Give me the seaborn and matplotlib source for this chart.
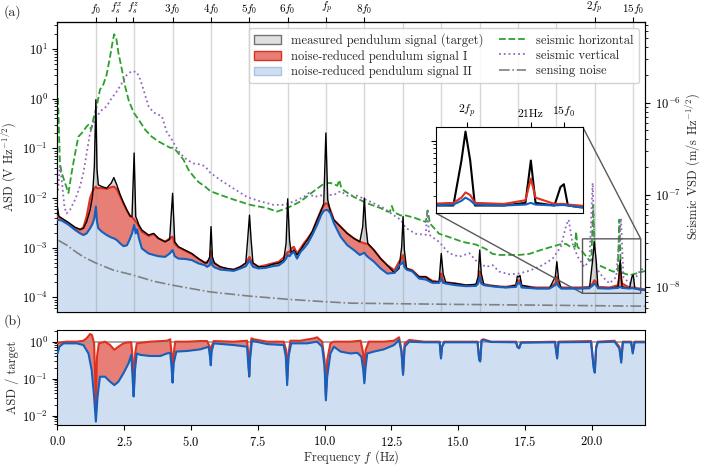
import numpy as np
import seaborn as sns
import matplotlib.pyplot as plt
from matplotlib.patches import Patch
from matplotlib.lines import Line2D
from matplotlib.ticker import NullFormatter

# pendulum fundamental, seismic resonances, pitch mode (Hz)
f0 = 1.437
fs_x = 2.19
fs_z = 2.84
fp = 10.06

# ---- panel (a): pendulum ASD, common frequency grid ----
freq = [0.0, 0.05, 0.16, 0.41, 0.66, 0.85, 0.97, 1.09, 1.22, 1.31, 1.38, 1.437, 1.48, 1.53, 1.66, 1.84,
        2.01, 2.11, 2.22, 2.35, 2.47, 2.60, 2.72, 2.79, 2.87, 2.93, 2.98, 3.05, 3.16, 3.41, 3.60, 3.78,
        4.03, 4.20, 4.31, 4.39, 4.53, 4.78, 5.03, 5.28, 5.53,
        5.60, 5.70, 5.75, 5.80, 5.88, 6.10, 6.35, 6.60, 6.85, 7.05, 7.12, 7.19, 7.25, 7.32, 7.53, 7.78,
        8.04, 8.29, 8.47, 8.56, 8.62, 8.69, 8.75, 8.85, 8.97, 9.10, 9.22, 9.37, 9.54, 9.72, 9.87, 9.97,
        10.05, 10.12, 10.22, 10.35, 10.60, 10.85, 11.10, 11.32, 11.43, 11.49, 11.55, 11.62, 11.85, 12.10, 12.35,
        12.62, 12.79, 12.89, 12.94, 12.99, 13.07, 13.29, 13.54, 13.79, 14.04, 14.29, 14.37, 14.44, 14.54,
        14.91, 15.29, 15.67, 15.75, 15.81, 15.87, 15.97, 16.42, 16.79, 17.17, 17.22, 17.27, 17.32, 17.38,
        17.92, 18.42, 18.64, 18.70, 18.76, 18.86, 19.54, 19.92, 20.04, 20.10, 20.17, 20.24, 20.67, 20.99,
        21.07, 21.14, 21.42, 21.51, 21.56, 21.62, 21.79, 22.04]

target = [6.5e-3, 4.3e-3, 3.9e-3, 3.2e-3, 2.56e-3, 2.33e-3, 2.44e-3, 3.3e-3, 5.7e-3, 1.06e-2, 4.3e-2, 0.95,
          3.7e-2, 1.83e-2, 1.69e-2, 1.57e-2, 1.98e-2, 2.57e-2, 1.83e-2, 1.15e-2, 8.0e-3, 5.7e-3, 4.3e-3,
          4.2e-3, 8.0e-2, 4.2e-3, 3.6e-3, 2.85e-3, 2.26e-3, 1.79e-3, 1.93e-3, 1.53e-3, 1.31e-3, 1.46e-3,
          1.24e-2, 1.31e-3, 1.04e-3, 8.9e-4, 7.6e-4, 6.0e-4, 4.9e-4,
          4.9e-4, 6.5e-4, 2.64e-3, 6.5e-4, 4.8e-4, 4.1e-4, 3.8e-4, 3.6e-4, 4.1e-4, 4.9e-4, 1.42e-3, 4.5e-3,
          1.42e-3, 4.9e-4, 4.1e-4, 4.1e-4, 4.6e-4, 4.9e-4, 5.6e-4, 1.21e-3, 9.6e-3, 1.42e-3, 7.6e-4, 8.9e-4,
          7.1e-4, 8.9e-4, 1.12e-3, 1.46e-3, 2.09e-3, 3.6e-3, 5.5e-3, 7.8e-3, 0.203, 9.1e-3, 5.3e-3, 3.6e-3,
          2.64e-3, 1.93e-3, 1.53e-3, 1.31e-3, 2.64e-3, 9.9e-3, 2.64e-3, 1.21e-3, 8.9e-4, 6.0e-4, 4.4e-4,
          3.1e-4, 3.8e-4, 1.04e-3, 4.2e-3, 8.9e-4, 3.8e-4, 3.4e-4, 2.58e-4, 2.58e-4, 2.04e-4, 2.04e-4, 7.6e-4,
          3.0e-4, 1.98e-4, 1.89e-4, 1.75e-4, 1.83e-4, 2.58e-4, 8.9e-4, 3.0e-4, 1.75e-4, 1.67e-4, 1.57e-4,
          1.75e-4, 2.66e-4, 2.58e-4, 2.74e-4, 1.75e-4, 1.5e-4, 1.5e-4, 2.58e-4, 5.2e-4, 2.38e-4, 1.5e-4,
          1.5e-4, 1.5e-4, 5.6e-4, 1.31e-3, 5.6e-4, 1.5e-4, 1.5e-4, 1.62e-4, 5.6e-4, 1.62e-4, 1.5e-4, 2.58e-4,
          2.8e-4, 1.5e-4, 1.43e-4, 1.38e-4]

signal_1 = [4.3e-3, 4.1e-3, 3.8e-3, 3.1e-3, 2.48e-3, 2.26e-3, 2.56e-3, 4.2e-3, 9.8e-3, 1.34e-2, 1.57e-2, 1.69e-2,
            1.57e-2, 1.57e-2, 1.57e-2, 1.52e-2, 1.64e-2, 1.69e-2, 1.50e-2, 1.06e-2, 7.6e-3, 5.5e-3, 4.3e-3,
            4.1e-3, 3.7e-3, 3.3e-3, 3.1e-3, 2.64e-3, 2.09e-3, 1.71e-3, 1.87e-3, 1.53e-3, 1.31e-3, 1.53e-3,
            1.66e-3, 1.18e-3, 1.01e-3, 8.6e-4, 7.4e-4, 5.9e-4, 4.9e-4,
            5.2e-4, 5.6e-4, 8.6e-4, 5.6e-4, 4.9e-4, 4.0e-4, 3.7e-4, 3.6e-4, 4.1e-4, 4.8e-4, 5.6e-4, 6.5e-4,
            5.6e-4, 4.8e-4, 4.1e-4, 4.4e-4, 4.8e-4, 5.2e-4, 6.3e-4, 7.4e-4, 8.2e-4, 8.2e-4, 9.6e-4, 1.04e-3,
            7.6e-4, 9.6e-4, 1.21e-3, 1.53e-3, 2.09e-3, 3.6e-3, 5.7e-3, 6.9e-3, 7.8e-3, 7.6e-3, 5.7e-3, 3.6e-3,
            2.64e-3, 1.93e-3, 1.53e-3, 1.31e-3, 1.25e-3, 1.21e-3, 1.21e-3, 1.18e-3, 8.9e-4, 6.0e-4, 4.4e-4,
            3.5e-4, 5.2e-4, 6.0e-4, 7.1e-4, 4.8e-4, 3.8e-4, 3.5e-4, 2.58e-4, 2.58e-4, 2.14e-4, 2.04e-4, 3.0e-4,
            2.1e-4, 2.01e-4, 1.89e-4, 1.75e-4, 1.77e-4, 2.04e-4, 3.3e-4, 2.04e-4, 1.83e-4, 1.67e-4, 1.62e-4,
            1.75e-4, 2.2e-4, 2.14e-4, 2.2e-4, 1.69e-4, 1.57e-4, 1.57e-4, 1.89e-4, 2.58e-4, 1.83e-4, 1.57e-4,
            1.57e-4, 1.62e-4, 1.89e-4, 2.2e-4, 2.04e-4, 1.62e-4, 1.57e-4, 1.75e-4, 3.3e-4, 1.89e-4, 1.57e-4,
            1.57e-4, 1.57e-4, 1.54e-4, 1.5e-4, 1.43e-4]

signal_2 = [3.6e-3, 3.6e-3, 3.5e-3, 2.9e-3, 2.26e-3, 1.93e-3, 1.79e-3, 1.93e-3, 2.44e-3, 3.0e-3, 3.9e-3, 6.7e-3,
            3.3e-3, 2.44e-3, 2.09e-3, 1.79e-3, 1.60e-3, 1.53e-3, 1.42e-3, 1.21e-3, 1.07e-3, 1.11e-3, 1.53e-3,
            1.93e-3, 2.85e-3, 1.93e-3, 2.33e-3, 1.53e-3, 9.6e-4, 7.6e-4, 7.1e-4, 6.7e-4, 6.5e-4, 7.6e-4,
            8.9e-4, 6.7e-4, 6.0e-4, 5.9e-4, 5.6e-4, 4.8e-4, 4.4e-4,
            4.1e-4, 4.4e-4, 6.0e-4, 4.4e-4, 4.0e-4, 3.6e-4, 3.5e-4, 3.4e-4, 3.8e-4, 4.2e-4, 4.8e-4, 5.6e-4,
            4.8e-4, 4.1e-4, 3.8e-4, 3.9e-4, 4.2e-4, 4.4e-4, 5.2e-4, 6.0e-4, 7.1e-4, 6.7e-4, 7.4e-4, 8.2e-4,
            6.0e-4, 8.2e-4, 9.6e-4, 1.21e-3, 1.79e-3, 2.85e-3, 4.5e-3, 5.5e-3, 5.7e-3, 5.7e-3, 4.9e-3, 3.1e-3,
            1.66e-3, 1.12e-3, 8.9e-4, 7.1e-4, 7.6e-4, 7.9e-4, 7.1e-4, 6.5e-4, 5.2e-4, 3.8e-4, 3.0e-4,
            3.1e-4, 4.4e-4, 4.8e-4, 5.2e-4, 4.1e-4, 3.6e-4, 3.3e-4, 2.38e-4, 2.27e-4, 1.95e-4, 1.95e-4, 2.38e-4,
            1.95e-4, 1.89e-4, 1.75e-4, 1.67e-4, 1.69e-4, 1.89e-4, 2.5e-4, 1.89e-4, 1.75e-4, 1.62e-4, 1.57e-4,
            1.62e-4, 1.95e-4, 1.89e-4, 1.95e-4, 1.57e-4, 1.5e-4, 1.5e-4, 1.75e-4, 1.95e-4, 1.67e-4, 1.5e-4,
            1.5e-4, 1.54e-4, 1.72e-4, 1.89e-4, 1.75e-4, 1.54e-4, 1.5e-4, 1.54e-4, 1.62e-4, 1.54e-4, 1.5e-4,
            1.52e-4, 1.52e-4, 1.5e-4, 1.43e-4, 1.38e-4]

noise_freq = [0.03, 0.35, 0.59, 0.97, 1.43, 2.10, 2.83, 3.60, 4.30, 5.72, 7.15, 8.61, 10.07, 11.0, 14.73, 18.48, 22.0]
sensing_noise = [1.4e-3, 1.12e-3, 8.9e-4, 6.5e-4, 4.9e-4, 3.5e-4, 2.8e-4, 2.1e-4, 1.75e-4, 1.28e-4, 1.06e-4,
                 9.1e-5, 8.1e-5, 7.6e-5, 7.2e-5, 6.9e-5, 6.6e-5]

# ---- seismic VSD (right axis) ----
seis_h_freq = [0.02, 0.09, 0.16, 0.28, 0.41, 0.53, 0.66, 0.78, 0.91, 1.09, 1.16, 1.26, 1.34, 1.47, 1.59, 1.72,
               1.84, 1.97, 2.06, 2.12, 2.20, 2.28, 2.41, 2.53, 2.66, 2.85, 3.03, 3.28, 3.53, 3.78, 4.03, 4.22,
               4.35, 4.53, 4.72, 4.91, 5.10, 5.28, 5.53, 5.72, 6.10, 6.60, 7.22, 7.85, 8.22, 8.60, 9.10, 9.60,
               9.97, 10.22, 10.48, 10.55, 10.62, 10.72, 11.10, 11.60, 12.10, 12.35, 12.45, 12.52, 12.60, 12.85,
               13.04, 13.41, 13.79, 13.86, 13.95, 14.29, 14.66, 15.17, 15.67, 16.04, 16.29, 16.54, 16.92, 17.29,
               17.67, 18.04, 18.42, 18.79, 19.04, 19.20, 19.38, 19.42, 19.47, 19.67, 19.92, 19.99, 20.06, 20.13,
               20.42, 20.80, 20.98, 21.04, 21.10, 21.42, 21.67, 22.04]
seis_h = [1.12e-6, 2.19e-7, 1.74e-7, 1.35e-7, 1.05e-7, 1.74e-7, 2.82e-7, 4.27e-7, 4.68e-7, 5.5e-7, 5.75e-7,
          5.13e-7, 6.6e-7, 9.1e-7, 1.38e-6, 1.58e-6, 2.0e-6, 3.16e-6, 4.47e-6, 5.5e-6, 5.0e-6, 3.47e-6, 2.29e-6,
          1.51e-6, 1.07e-6, 7.8e-7, 6.6e-7, 5.1e-7, 4.27e-7, 3.8e-7, 3.47e-7, 3.24e-7, 3.24e-7, 2.82e-7, 2.4e-7,
          1.86e-7, 1.58e-7, 1.38e-7, 1.23e-7, 1.10e-7, 1.0e-7, 8.9e-8, 7.8e-8, 7.2e-8, 6.6e-8, 7.2e-8, 8.5e-8,
          1.10e-7, 1.32e-7, 1.35e-7, 1.26e-7, 1.45e-7, 1.22e-7, 1.12e-7, 9.5e-8, 8.1e-8, 7.2e-8, 6.6e-8, 6.6e-8,
          7.6e-8, 6.5e-8, 6.0e-8, 6.0e-8, 5.6e-8, 5.1e-8, 6.8e-8, 4.9e-8, 3.8e-8, 3.5e-8, 3.1e-8, 2.9e-8,
          2.6e-8, 2.3e-8, 2.24e-8, 2.24e-8, 2.24e-8, 2.3e-8, 2.5e-8, 2.7e-8, 2.9e-8, 2.95e-8, 2.75e-8, 2.75e-8,
          4.0e-8, 2.75e-8, 2.4e-8, 1.95e-8, 1.95e-8, 7.8e-8, 1.8e-8, 1.66e-8, 1.48e-8, 1.48e-8, 5.4e-8, 1.45e-8,
          1.35e-8, 1.41e-8, 1.51e-8]

seis_v_freq = [0.02, 0.09, 0.16, 0.26, 0.34, 0.47, 0.66, 0.84, 0.97, 1.09, 1.22, 1.34, 1.47, 1.66, 1.84, 2.03,
               2.22, 2.41, 2.60, 2.78, 2.97, 3.10, 3.22, 3.41, 3.60, 3.78, 3.91, 4.10, 4.22, 4.41, 4.60, 4.85,
               5.10, 5.35, 5.53, 5.72, 6.10, 6.60, 7.10, 7.60, 8.10, 8.47, 8.85, 9.22, 9.41, 9.60, 9.97, 10.35,
               10.60, 10.85, 11.22, 11.47, 11.85, 12.22, 12.60, 12.85, 13.04, 13.41, 13.79, 13.85, 13.92, 14.29,
               14.66, 15.04, 15.42, 15.67, 16.04, 16.29, 16.54, 16.92, 17.29, 17.67, 18.17, 18.54, 18.85, 19.04,
               19.14, 19.29, 19.48, 19.73, 19.92, 20.04, 20.14, 20.42, 20.67, 20.92, 21.10, 21.19, 21.42, 21.67,
               21.85, 22.04]
seis_v = [1.12e-7, 2.04e-7, 1.45e-7, 7.4e-8, 6.3e-8, 6.9e-8, 8.9e-8, 1.23e-7, 1.74e-7, 2.8e-7, 4.7e-7, 6.0e-7,
          7.1e-7, 8.3e-7, 9.1e-7, 1.12e-6, 1.32e-6, 1.62e-6, 2.0e-6, 2.19e-6, 2.14e-6, 1.78e-6, 1.38e-6, 9.1e-7,
          7.8e-7, 7.4e-7, 7.1e-7, 4.7e-7, 4.27e-7, 3.4e-7, 2.8e-7, 2.4e-7, 2.19e-7, 2.14e-7, 2.04e-7, 1.74e-7,
          1.45e-7, 1.17e-7, 9.5e-8, 8.5e-8, 7.8e-8, 7.8e-8, 8.5e-8, 9.5e-8, 1.05e-7, 9.5e-8, 1.0e-7, 1.0e-7,
          1.10e-7, 9.8e-8, 9.8e-8, 9.1e-8, 8.1e-8, 7.2e-8, 6.0e-8, 5.4e-8, 4.4e-8, 3.8e-8, 3.7e-8, 6.6e-8,
          3.7e-8, 3.1e-8, 2.34e-8, 2.14e-8, 2.34e-8, 1.95e-8, 1.66e-8, 1.74e-8, 1.48e-8, 1.38e-8, 1.41e-8,
          1.51e-8, 1.74e-8, 2.04e-8, 2.75e-8, 4.6e-8, 5.4e-8, 2.95e-8, 2.14e-8, 1.66e-8, 1.95e-8, 1.35e-7,
          1.66e-8, 1.29e-8, 1.10e-8, 1.29e-8, 5.6e-8, 1.29e-8, 1.10e-8, 1.29e-8, 1.58e-8, 1.51e-8]

# ---- panel (b): ASD ratio to target ----
ratio_1_freq = [0.00, 0.09, 0.34, 0.72, 0.97, 1.09, 1.22, 1.29, 1.37, 1.41, 1.437, 1.48, 1.55, 1.66, 1.78, 1.97,
                2.13, 2.28, 2.47, 2.66, 2.76, 2.82, 2.86, 2.91, 2.97, 3.47, 4.10, 4.22, 4.28, 4.31, 4.35, 4.41,
                4.85, 5.35, 5.60, 5.70, 5.74, 5.77, 5.85, 6.60, 7.10, 7.15, 7.18, 7.21, 7.26, 7.35, 7.85, 8.47,
                8.56, 8.60, 8.65, 8.72, 9.10, 9.60, 9.72, 9.91, 10.00, 10.05, 10.10, 10.22, 10.35, 10.97, 11.35,
                11.45, 11.49, 11.54, 11.66, 12.22, 12.60, 12.79, 12.88, 12.94, 13.00, 13.17, 13.73, 14.31, 14.36,
                14.40, 14.48, 15.73, 15.79, 15.83, 15.88, 15.95, 16.23, 17.17, 17.23, 17.29, 17.36, 18.63, 18.71,
                18.76, 19.98, 20.08, 20.12, 20.17, 20.23, 20.86, 21.04, 21.11, 21.17, 21.48, 21.54, 21.61, 22.04]
ratio_1 = [0.90, 0.94, 1.00, 1.00, 1.06, 1.23, 1.61, 1.51, 0.90, 0.113, 0.0175, 0.39, 0.90, 0.94, 1.00, 0.81,
           0.60, 0.73, 0.90, 0.96, 0.96, 0.32, 0.04, 0.48, 0.90, 1.00, 1.06, 1.16, 0.39, 0.083, 0.48, 1.00,
           1.00, 1.04, 1.04, 0.73, 0.32, 0.73, 1.04, 1.00, 1.06, 0.39, 0.126, 0.48, 1.23, 1.16, 1.00, 1.00,
           0.60, 0.092, 0.48, 1.06, 1.06, 1.23, 1.31, 1.00, 0.32, 0.033, 0.32, 0.90, 1.00, 1.00, 1.06,
           0.48, 0.092, 0.60, 1.00, 1.00, 1.06, 1.31, 0.60, 0.14, 0.90, 1.11, 1.00, 1.00, 0.39,
           0.73, 1.00, 1.00, 0.35, 0.32, 1.11, 1.16, 1.00, 1.00, 0.73, 0.70, 0.96, 1.00, 0.39,
           1.00, 1.04, 0.21, 0.155, 0.73, 1.00, 1.06, 0.73, 0.32, 1.00, 1.00, 0.54, 1.00, 1.00]

ratio_2_freq = [0.00, 0.07, 0.22, 0.72, 0.97, 1.16, 1.28, 1.37, 1.437, 1.50, 1.59, 1.78, 1.97, 2.13, 2.28, 2.47,
                2.66, 2.76, 2.81, 2.85, 2.90, 2.97, 3.10, 3.47, 3.85, 4.10, 4.22, 4.27, 4.31, 4.35, 4.45, 4.85,
                5.35, 5.66, 5.71, 5.74, 5.77, 5.85, 6.60, 7.10, 7.14, 7.18, 7.21, 7.28, 7.85, 8.47, 8.55, 8.60,
                8.65, 8.75, 9.35, 9.72, 9.91, 10.00, 10.05, 10.10, 10.22, 10.35, 10.60, 10.97, 11.23, 11.38,
                11.45, 11.49, 11.54, 11.60, 11.85, 12.22, 12.60, 12.79, 12.88, 12.94, 13.00, 13.17, 13.73, 14.31,
                14.36, 14.40, 14.48, 15.73, 15.79, 15.83, 15.88, 15.95, 16.23, 17.17, 17.23, 17.29, 17.36, 18.63,
                18.71, 18.76, 19.98, 20.08, 20.12, 20.17, 20.23, 20.86, 21.04, 21.11, 21.17, 21.48, 21.54, 21.61,
                22.04]
ratio_2 = [0.48, 0.73, 0.90, 0.90, 0.81, 0.48, 0.17, 0.033, 0.0069, 0.033, 0.113, 0.113, 0.083, 0.067, 0.083,
           0.14, 0.26, 0.44, 0.113, 0.033, 0.17, 0.48, 0.44, 0.41, 0.41, 0.48, 0.50, 0.21, 0.078, 0.26, 0.54,
           0.56, 0.62, 0.73, 0.39, 0.23, 0.54, 0.90, 0.81, 0.73, 0.26, 0.113, 0.32, 1.06, 0.86, 0.81, 0.39,
           0.067, 0.39, 0.90, 0.90, 1.00, 0.73, 0.21, 0.026, 0.113, 0.48, 0.73, 0.54, 0.48, 0.50, 0.39, 0.17,
           0.075, 0.21, 0.48, 0.54, 0.62, 0.81, 1.11, 0.54, 0.126, 0.73, 1.00, 0.96, 0.96, 0.35, 0.73, 0.96,
           0.96, 0.32, 0.29, 1.06, 1.11, 0.98, 0.96, 0.70, 0.66, 0.94, 0.96, 0.35, 0.96, 0.98, 0.19, 0.145,
           0.66, 0.96, 1.00, 0.66, 0.27, 0.96, 0.96, 0.48, 0.96, 0.96]

top_ticks = [f0, fs_x, fs_z, 3 * f0, 4 * f0, 5 * f0, 6 * f0, fp, 8 * f0, 2 * fp, 15 * f0]
top_labels = ['$f_0$', '$f_s^x$', '$f_s^z$', '$3f_0$', '$4f_0$', '$5f_0$', '$6f_0$', '$f_p$', '$8f_0$',
              '$2f_p$', '$15f_0$']
inset_ticks = [2 * fp, 21.07, 15 * f0]
inset_labels = ['$2f_p$', '21Hz', '$15f_0$']

sns.set_style('ticks')
plt.rcParams['font.family'] = 'serif'
plt.rcParams['font.serif'] = ['cmr10']
plt.rcParams['mathtext.fontset'] = 'cm'
plt.rcParams['axes.formatter.use_mathtext'] = True
plt.rcParams['axes.unicode_minus'] = False
plt.rcParams['font.size'] = 9
plt.rcParams['axes.edgecolor'] = 'black'
plt.rcParams['xtick.color'] = 'black'
plt.rcParams['ytick.color'] = 'black'

c_black = 'black'
c_red = '#e0301e'
c_blue = '#1560bd'
fill_gray = '#d6d6d6'
fill_red = '#e87f76'
fill_blue = '#cfdff1'


def line(axis, x, y, **kw):
    sns.lineplot(x=x, y=y, ax=axis, estimator=None, sort=False, **kw)


fig = plt.figure(figsize=(7.02, 4.66), dpi=100)
ax = fig.add_axes([0.0819, 0.3305, 0.8369, 0.6223])
bx = fig.add_axes([0.0819, 0.088, 0.8369, 0.2039])
ax2 = ax.twinx()
ax.set_zorder(ax2.get_zorder() + 1)
ax.patch.set_visible(False)

# ---- panel (a) ----
ax.set_yscale('log')
ax.set_xlim(0, 22)
ax.set_ylim(5.05e-5, 34.8)
floor = 1e-6
ax.fill_between(freq, floor, target, color=fill_gray, lw=0, zorder=1)
ax.fill_between(freq, floor, signal_1, color=fill_red, lw=0, zorder=1.1)
ax.fill_between(freq, floor, signal_2, color=fill_blue, lw=0, zorder=1.2)
for n in range(1, 16):
    ax.axvline(n * f0, color='0.55', alpha=0.35, lw=1, zorder=1.5)
line(ax, freq, signal_1, color=c_red, lw=1.5, zorder=3)
line(ax, freq, target, color=c_black, lw=1.0, zorder=4)
line(ax, freq, signal_2, color=c_blue, lw=1.5, zorder=5)
line(ax, noise_freq, sensing_noise, color='0.5', lw=1.2, linestyle='-.', zorder=6)
ax.set_ylabel('ASD (V Hz$^{-1/2}$)', labelpad=2)
ax.tick_params(axis='x', which='both', bottom=False, labelbottom=False)

ax2.set_yscale('log')
ax2.set_ylim(5.4e-9, 7.46e-6)
line(ax2, seis_h_freq, seis_h, color='#2ca02c', lw=1.3, linestyle='--')
line(ax2, seis_v_freq, seis_v, color='#9467bd', lw=1.3, linestyle=':')
ax2.set_ylabel('Seismic VSD (m/s Hz$^{-1/2}$)', labelpad=2)
ax2.set_xlim(0, 22)

sec = ax.secondary_xaxis('top')
sec.set_xticks(top_ticks, top_labels)
sec.tick_params(axis='x', length=3.5, pad=1, labelsize=8)

# inset zoom on the high-frequency peaks
axins = ax.inset_axes([0.644, 0.341, 0.250, 0.297])
line(axins, freq, target, color=c_black, lw=1.5)
line(axins, freq, signal_1, color=c_red, lw=1.5)
line(axins, freq, signal_2, color=c_blue, lw=1.5)
axins.set_yscale('log')
axins.set_xlim(19.66, 21.84)
axins.set_ylim(1.2e-4, 1.5e-3)
axins.set_facecolor('white')
axins.xaxis.tick_top()
axins.set_xticks(inset_ticks, inset_labels)
axins.tick_params(axis='x', pad=2, labelsize=8.5)
axins.yaxis.set_major_formatter(NullFormatter())
axins.yaxis.set_minor_formatter(NullFormatter())
axins.set_xlabel('')
axins.set_ylabel('')
ax.indicate_inset_zoom(axins, edgecolor='0.35', alpha=1.0, linewidth=1.0)

handles = [Patch(facecolor='#e0e0e0', edgecolor='0.45'),
           Patch(facecolor=fill_red, edgecolor=c_red),
           Patch(facecolor=fill_blue, edgecolor='#a8c4e6'),
           Line2D([], [], color='#2ca02c', lw=1.3, linestyle='--'),
           Line2D([], [], color='#9467bd', lw=1.3, linestyle=':'),
           Line2D([], [], color='0.5', lw=1.2, linestyle='-.')]
labels = ['measured pendulum signal (target)', 'noise-reduced pendulum signal I',
          'noise-reduced pendulum signal II', 'seismic horizontal', 'seismic vertical', 'sensing noise']
ax.legend(handles, labels, loc='upper right', ncol=2, fontsize=9, framealpha=0.85,
          columnspacing=1.2, handlelength=2.2, labelspacing=0.25, borderpad=0.4)

# ---- panel (b) ----
bx.set_yscale('log')
bx.set_xlim(0, 22)
bx.set_ylim(5.6e-3, 2.07)
bx.fill_between(ratio_1_freq, 1e-4, ratio_1, color=fill_red, lw=0, zorder=1)
bx.fill_between(ratio_2_freq, 1e-4, ratio_2, color=fill_blue, lw=0, zorder=1.1)
bx.axhline(1.0, color='0.6', lw=1.2, zorder=1.5)
line(bx, ratio_1_freq, ratio_1, color=c_red, lw=1.5, zorder=3)
line(bx, ratio_2_freq, ratio_2, color=c_blue, lw=1.5, zorder=4)
bx.set_xticks([0, 2.5, 5, 7.5, 10, 12.5, 15, 17.5, 20])
bx.set_xlabel('Frequency $f$ (Hz)', labelpad=0)
bx.set_ylabel('ASD / target', labelpad=2)

fig.text(0.005, 0.974, '(a)', fontsize=10, va='center')
fig.text(0.005, 0.311, '(b)', fontsize=10, va='center')

fig.savefig('out.png', dpi=100)
